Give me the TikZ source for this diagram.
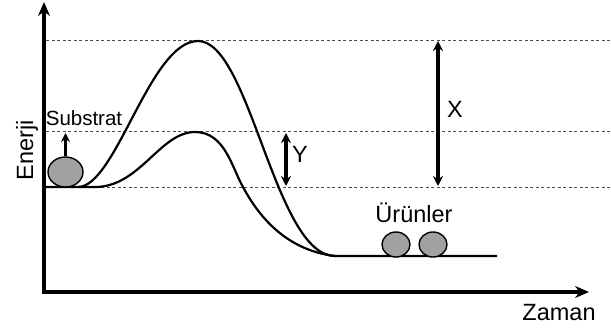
\documentclass[tikz,border=0pt]{standalone}
\usepackage{fontspec}
\setmainfont{Liberation Sans}
\usetikzlibrary{arrows.meta, shapes.geometric, positioning}

\begin{document}
\begin{tikzpicture}[x=1pt, y=-1pt, >=Stealth,
          every node/.style={inner sep=0pt},
          lbl/.style={font=\fontsize{23.5}{27}\selectfont, anchor=base},
          guide/.style={black!70, line width=0.9pt, dash pattern=on 3pt off 2.5pt},
          curve/.style={line width=2.2pt},
          axis/.style={line width=3.2pt, {Stealth[length=14pt,width=12pt]}-{Stealth[length=14pt,width=12pt]}},
          span/.style={line width=3.2pt, {Stealth[length=10pt,width=10pt]}-{Stealth[length=10pt,width=10pt]}},
          blob/.style={draw, ellipse, line width=1.4pt, fill=black!37}]
        \useasboundingbox (0,0) rectangle (611,331);
        % axes
        \coordinate (ytop) at (44,2);
        \coordinate (xend) at (589,292);
        \draw[axis] (ytop) |- (xend);
        \node[lbl, rotate=90] (en) at (33,150) {Enerji};
        \node[lbl] (za) at (559,320) {Zaman};
        % energy levels
        \draw[guide] (46,40) -- (611,40);
        \draw[guide] (46,131) -- (611,131);
        \draw[guide] (46,187) -- (611,187);
        % reaction paths
        \draw[curve] (44,187) -- (78,187) .. controls (116,187) and (150,41) .. (198,41)
              .. controls (250,41) and (275,256) .. (335,256) -- (497,256);
        \draw[curve] (78,187) -- (95,187) .. controls (140,187) and (160,132) .. (195,132)
              .. controls (225,132) and (232,168) .. (243,187)
              .. controls (258,215) and (285,250) .. (335,256);
        % substrate
        \node[blob, minimum width=35pt, minimum height=30pt] (sub) at (65.5,172) {};
        \coordinate (subtip) at (65.5,133);
        \draw[line width=2.6pt, -{Stealth[length=9pt,width=9pt]}] (sub.north) -- (subtip);
        \node[lbl, font=\fontsize{20.5}{24}\selectfont] (subl) at (84,126) {Substrat};
        % products
        \node[blob, minimum width=28pt, minimum height=25pt] (p1) at (396,244.5) {};
        \node[blob, minimum width=28pt, minimum height=25pt] (p2) at (433,244.5) {};
        \node[lbl] (prl) at (414,223) {Ürünler};
        % activation energies
        \coordinate (ya) at (286,133);
        \coordinate (yb) at (286,186);
        \draw[span] (ya) -- (yb);
        \node[lbl] (yl) at (300,163) {Y};
        \coordinate (xa) at (438,41);
        \coordinate (xb) at (438,186);
        \draw[span] (xa) -- (xb);
        \node[lbl] (xl) at (455,118) {X};
      \end{tikzpicture}
\end{document}
